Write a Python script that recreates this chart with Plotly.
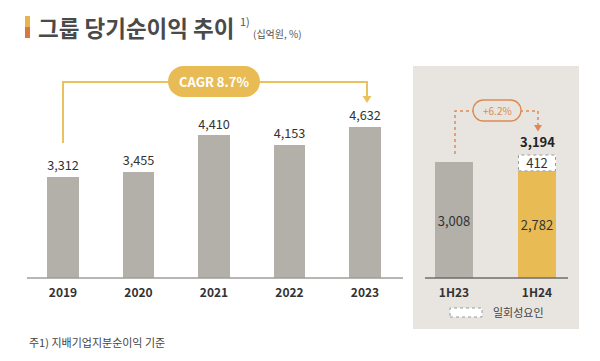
import plotly.graph_objects as go

# ---------------- data ----------------
years = ["2019", "2020", "2021", "2022", "2023"]
annual_profit = [3312, 3455, 4410, 4153, 4632]
halves = ["1H23", "1H24"]
half_recurring = [3008, 2782]
half_oneoff = [0, 412]
half_total = [3008, 3194]
cagr_label = "CAGR 8.7%"
growth_label = "+6.2%"
title_text = "그룹 당기순이익 추이"
unit_text = "(십억원, %)"
note_text = "주1) 지배기업지분순이익 기준"
legend_text = "일회성요인"

# ---------------- style ----------------
W, H = 600, 361
GRAY = "#b3afa9"
YELLOW = "#e9bb55"
GOLD_LINE = "#e9c25c"
ORANGE = "#dc8a52"
PANEL = "#e8e5e0"
FONT = "Noto Sans CJK KR"


def px(x):
    return x / W


def py(y):
    return 1 - y / H


L_DOM = [25.25 / W, 402.75 / W]
R_DOM = [412.5 / W, 578.5 / W]
Y_DOM = [py(278), py(60)]
LEFT_RANGE = [646, 646 + 218 / 0.03788]
RIGHT_RANGE = [0, 218 / 0.0385]


def pill_path(x0, y0, x1, y1, r):
    k = 0.5523 * r
    pts = [
        f"M{px(x0 + r)},{py(y0)}",
        f"L{px(x1 - r)},{py(y0)}",
        f"C{px(x1 - r + k)},{py(y0)} {px(x1)},{py(y0 + r - k)} {px(x1)},{py(y0 + r)}",
        f"L{px(x1)},{py(y1 - r)}",
        f"C{px(x1)},{py(y1 - r + k)} {px(x1 - r + k)},{py(y1)} {px(x1 - r)},{py(y1)}",
        f"L{px(x0 + r)},{py(y1)}",
        f"C{px(x0 + r - k)},{py(y1)} {px(x0)},{py(y1 - r + k)} {px(x0)},{py(y1 - r)}",
        f"L{px(x0)},{py(y0 + r)}",
        f"C{px(x0)},{py(y0 + r - k)} {px(x0 + r - k)},{py(y0)} {px(x0 + r)},{py(y0)}",
        "Z",
    ]
    return " ".join(pts)


def tri_path(cx, top, tip, half):
    return f"M{px(cx - half)},{py(top)} L{px(cx + half)},{py(top)} L{px(cx)},{py(tip)} Z"


fig = go.Figure()

fig.add_trace(go.Bar(
    x=years, y=annual_profit, xaxis="x", yaxis="y",
    marker=dict(color=GRAY, line=dict(width=0)), width=0.42,
    text=[f"{v:,}" for v in annual_profit], textposition="outside",
    textfont=dict(size=13, color="#333333", family=FONT),
    cliponaxis=False, showlegend=False, hoverinfo="skip",
))

fig.add_trace(go.Bar(
    x=halves, y=half_recurring, xaxis="x2", yaxis="y2",
    marker=dict(color=[GRAY, YELLOW], line=dict(width=0)), width=0.446,
    text=[f"{v:,}" for v in half_recurring], textposition="inside",
    insidetextanchor="middle", constraintext="none", textangle=0,
    textfont=dict(size=13, color="#333333", family=FONT),
    showlegend=False, hoverinfo="skip",
))

fig.add_trace(go.Bar(
    x=halves, y=half_oneoff, xaxis="x2", yaxis="y2",
    marker=dict(color="white", line=dict(width=0)), width=0.446,
    text=[f"{v:,}" if v else "" for v in half_oneoff], textposition="inside",
    insidetextanchor="middle", constraintext="none", textangle=0,
    textfont=dict(size=13, color="#333333", family=FONT),
    showlegend=False, hoverinfo="skip",
))

shapes = []
# right panel background
shapes.append(dict(type="rect", xref="paper", yref="paper",
                   x0=px(413), x1=px(579), y0=py(329), y1=py(66),
                   fillcolor=PANEL, line=dict(width=0), layer="below"))
# baselines
shapes.append(dict(type="line", xref="paper", yref="paper",
                   x0=px(27), x1=px(403), y0=py(278), y1=py(278),
                   line=dict(color="#a19e99", width=1.5)))
shapes.append(dict(type="line", xref="paper", yref="paper",
                   x0=px(425), x1=px(568), y0=py(278), y1=py(278),
                   line=dict(color="#6f6d6a", width=1.5)))
# dotted border of one-off segment
shapes.append(dict(type="rect", xref="x2", yref="y2",
                   x0=1 - 0.223, x1=1 + 0.223,
                   y0=half_recurring[1], y1=half_total[1],
                   line=dict(color="#9a9a9a", width=1, dash="dot")))

# CAGR bracket
shapes.append(dict(type="path", xref="paper", yref="paper",
                   path=f"M{px(63)},{py(143)} L{px(63)},{py(82)} L{px(367)},{py(82)} L{px(367)},{py(98)}",
                   line=dict(color=GOLD_LINE, width=2)))
shapes.append(dict(type="path", xref="paper", yref="paper",
                   path=tri_path(367, 96, 103, 4.5),
                   fillcolor=GOLD_LINE, line=dict(width=0)))
shapes.append(dict(type="path", xref="paper", yref="paper",
                   path=pill_path(168, 66, 260, 97, 15.5),
                   fillcolor=YELLOW, line=dict(width=0)))

# growth bracket (right)
shapes.append(dict(type="path", xref="paper", yref="paper",
                   path=f"M{px(455)},{py(154)} L{px(455)},{py(111)} L{px(538)},{py(111)} L{px(538)},{py(126)}",
                   line=dict(color=ORANGE, width=1.5, dash="dot")))
shapes.append(dict(type="path", xref="paper", yref="paper",
                   path=tri_path(538, 125, 131.5, 4),
                   fillcolor=ORANGE, line=dict(width=0)))
shapes.append(dict(type="path", xref="paper", yref="paper",
                   path=pill_path(473, 100, 521, 121, 10.5),
                   fillcolor=PANEL, line=dict(color=ORANGE, width=1.3)))

# title icon
shapes.append(dict(type="rect", xref="paper", yref="paper",
                   x0=px(25), x1=px(30), y0=py(27), y1=py(16),
                   fillcolor="#e8b44c", line=dict(width=0)))
shapes.append(dict(type="rect", xref="paper", yref="paper",
                   x0=px(25), x1=px(30), y0=py(38), y1=py(27),
                   fillcolor="#d9783c", line=dict(width=0)))

# legend box
shapes.append(dict(type="rect", xref="paper", yref="paper",
                   x0=px(450), x1=px(482), y0=py(317), y1=py(308),
                   fillcolor="white", line=dict(color="#9a9a9a", width=1, dash="dot")))

annotations = [
    dict(text=title_text, x=px(36), y=py(27), xref="paper", yref="paper",
         xanchor="left", yanchor="middle", showarrow=False,
         font=dict(size=22.5, color="#4a4a4a", family=FONT, weight="bold")),
    dict(text="1)", x=px(238), y=py(21), xref="paper", yref="paper",
         xanchor="left", yanchor="middle", showarrow=False,
         font=dict(size=11, color="#555555", family=FONT)),
    dict(text=unit_text, x=px(251), y=py(33), xref="paper", yref="paper",
         xanchor="left", yanchor="middle", showarrow=False,
         font=dict(size=10, color="#555555", family=FONT)),
    dict(text=cagr_label, x=px(214), y=py(81.5), xref="paper", yref="paper",
         xanchor="center", yanchor="middle", showarrow=False,
         font=dict(size=13, color="white", family=FONT, weight="bold")),
    dict(text=growth_label, x=px(497), y=py(110.5), xref="paper", yref="paper",
         xanchor="center", yanchor="middle", showarrow=False,
         font=dict(size=10, color=ORANGE, family=FONT)),
    dict(text=f"{half_total[1]:,}", x=halves[1], y=half_total[1], xref="x2", yref="y2",
         xanchor="center", yanchor="bottom", yshift=2, showarrow=False,
         font=dict(size=13, color="#222222", family=FONT, weight="bold")),
    dict(text=legend_text, x=px(491), y=py(312), xref="paper", yref="paper",
         xanchor="left", yanchor="middle", showarrow=False,
         font=dict(size=11, color="#444444", family=FONT)),
    dict(text=note_text, x=px(27), y=py(342), xref="paper", yref="paper",
         xanchor="left", yanchor="middle", showarrow=False,
         font=dict(size=11, color="#444444", family=FONT)),
]

axis_common = dict(showgrid=False, zeroline=False, showline=False, ticks="",
                   tickfont=dict(size=12, color="#333333", family=FONT, weight="bold"),
                   ticklabelstandoff=6, fixedrange=True)

fig.update_layout(
    width=W, height=H,
    margin=dict(l=0, r=0, t=0, b=0),
    paper_bgcolor="white", plot_bgcolor="rgba(0,0,0,0)",
    barmode="stack",
    font=dict(family=FONT),
    xaxis=dict(domain=L_DOM, anchor="y", **axis_common),
    yaxis=dict(domain=Y_DOM, range=LEFT_RANGE, visible=False, anchor="x"),
    xaxis2=dict(domain=R_DOM, anchor="y2", **axis_common),
    yaxis2=dict(domain=Y_DOM, range=RIGHT_RANGE, visible=False, anchor="x2"),
    shapes=shapes,
    annotations=annotations,
    showlegend=False,
)

fig.write_html(
    "out.html",
    config={"displayModeBar": False},
    post_script="document.body.style.margin='0';document.body.style.overflow='hidden';",
)
